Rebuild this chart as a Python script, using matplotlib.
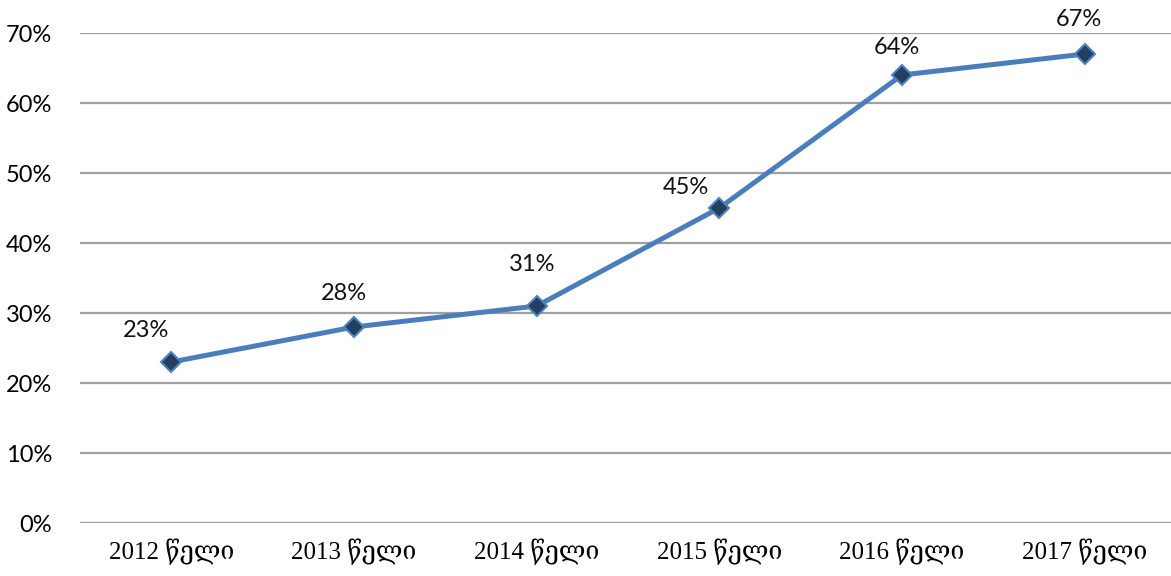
import matplotlib
matplotlib.use("Agg")
import matplotlib.pyplot as plt
from matplotlib.ticker import FuncFormatter

years = ["2012", "2013", "2014", "2015", "2016", "2017"]
suffix = "წელი"
values = [23, 28, 31, 45, 64, 67]
yticks = [0, 10, 20, 30, 40, 50, 60, 70]

# label offsets (points) relative to each marker
label_dx = [-18, -7, -3, -24, -4, -4]
label_dy = [23, 24, 30, 15, 20, 25]

fig = plt.figure(figsize=(11.71, 5.76), dpi=100)
ax = fig.add_axes([80 / 1171, 53 / 576, 1096 / 1171, 490 / 576])

x = list(range(len(values)))
ax.plot(x, values, color="#4A7EBB", lw=3.6, zorder=3, solid_capstyle="round")
ax.plot(x, values, ls="none", marker="D", ms=10, mfc="#243F60", mec="#4F81BD",
        mew=1.5, zorder=4)

for i, v in enumerate(values):
    ax.annotate(f"{v}%", (x[i], v), xytext=(label_dx[i], label_dy[i]),
                textcoords="offset points", ha="center", va="center",
                fontsize=17, family=["Lato", "DejaVu Sans"], color="#111111")

ax.set_xlim(-0.5, len(values) - 0.5)
ax.set_ylim(0, 70)
ax.set_yticks(yticks)
ax.yaxis.set_major_formatter(FuncFormatter(lambda v, p: f"{v:.0f}%"))
ax.grid(axis="y", color="#A0A0A0", lw=1.6)
ax.set_axisbelow(True)
for s in ax.spines.values():
    s.set_visible(False)
ax.tick_params(length=0)
ax.tick_params(axis="y", pad=20)
ax.tick_params(axis="x", pad=11)

ax.set_xticks(x)
ax.set_xticklabels([f"{y} {suffix}" for y in years])
for t in ax.get_xticklabels():
    t.set_family(["Liberation Serif", "DejaVu Serif", "DejaVu Sans"])
    t.set_fontsize(18)
for t in ax.get_yticklabels():
    t.set_family(["Lato", "DejaVu Sans"])
    t.set_fontsize(17)
    t.set_horizontalalignment("right")

fig.savefig("out.png", dpi=100)
